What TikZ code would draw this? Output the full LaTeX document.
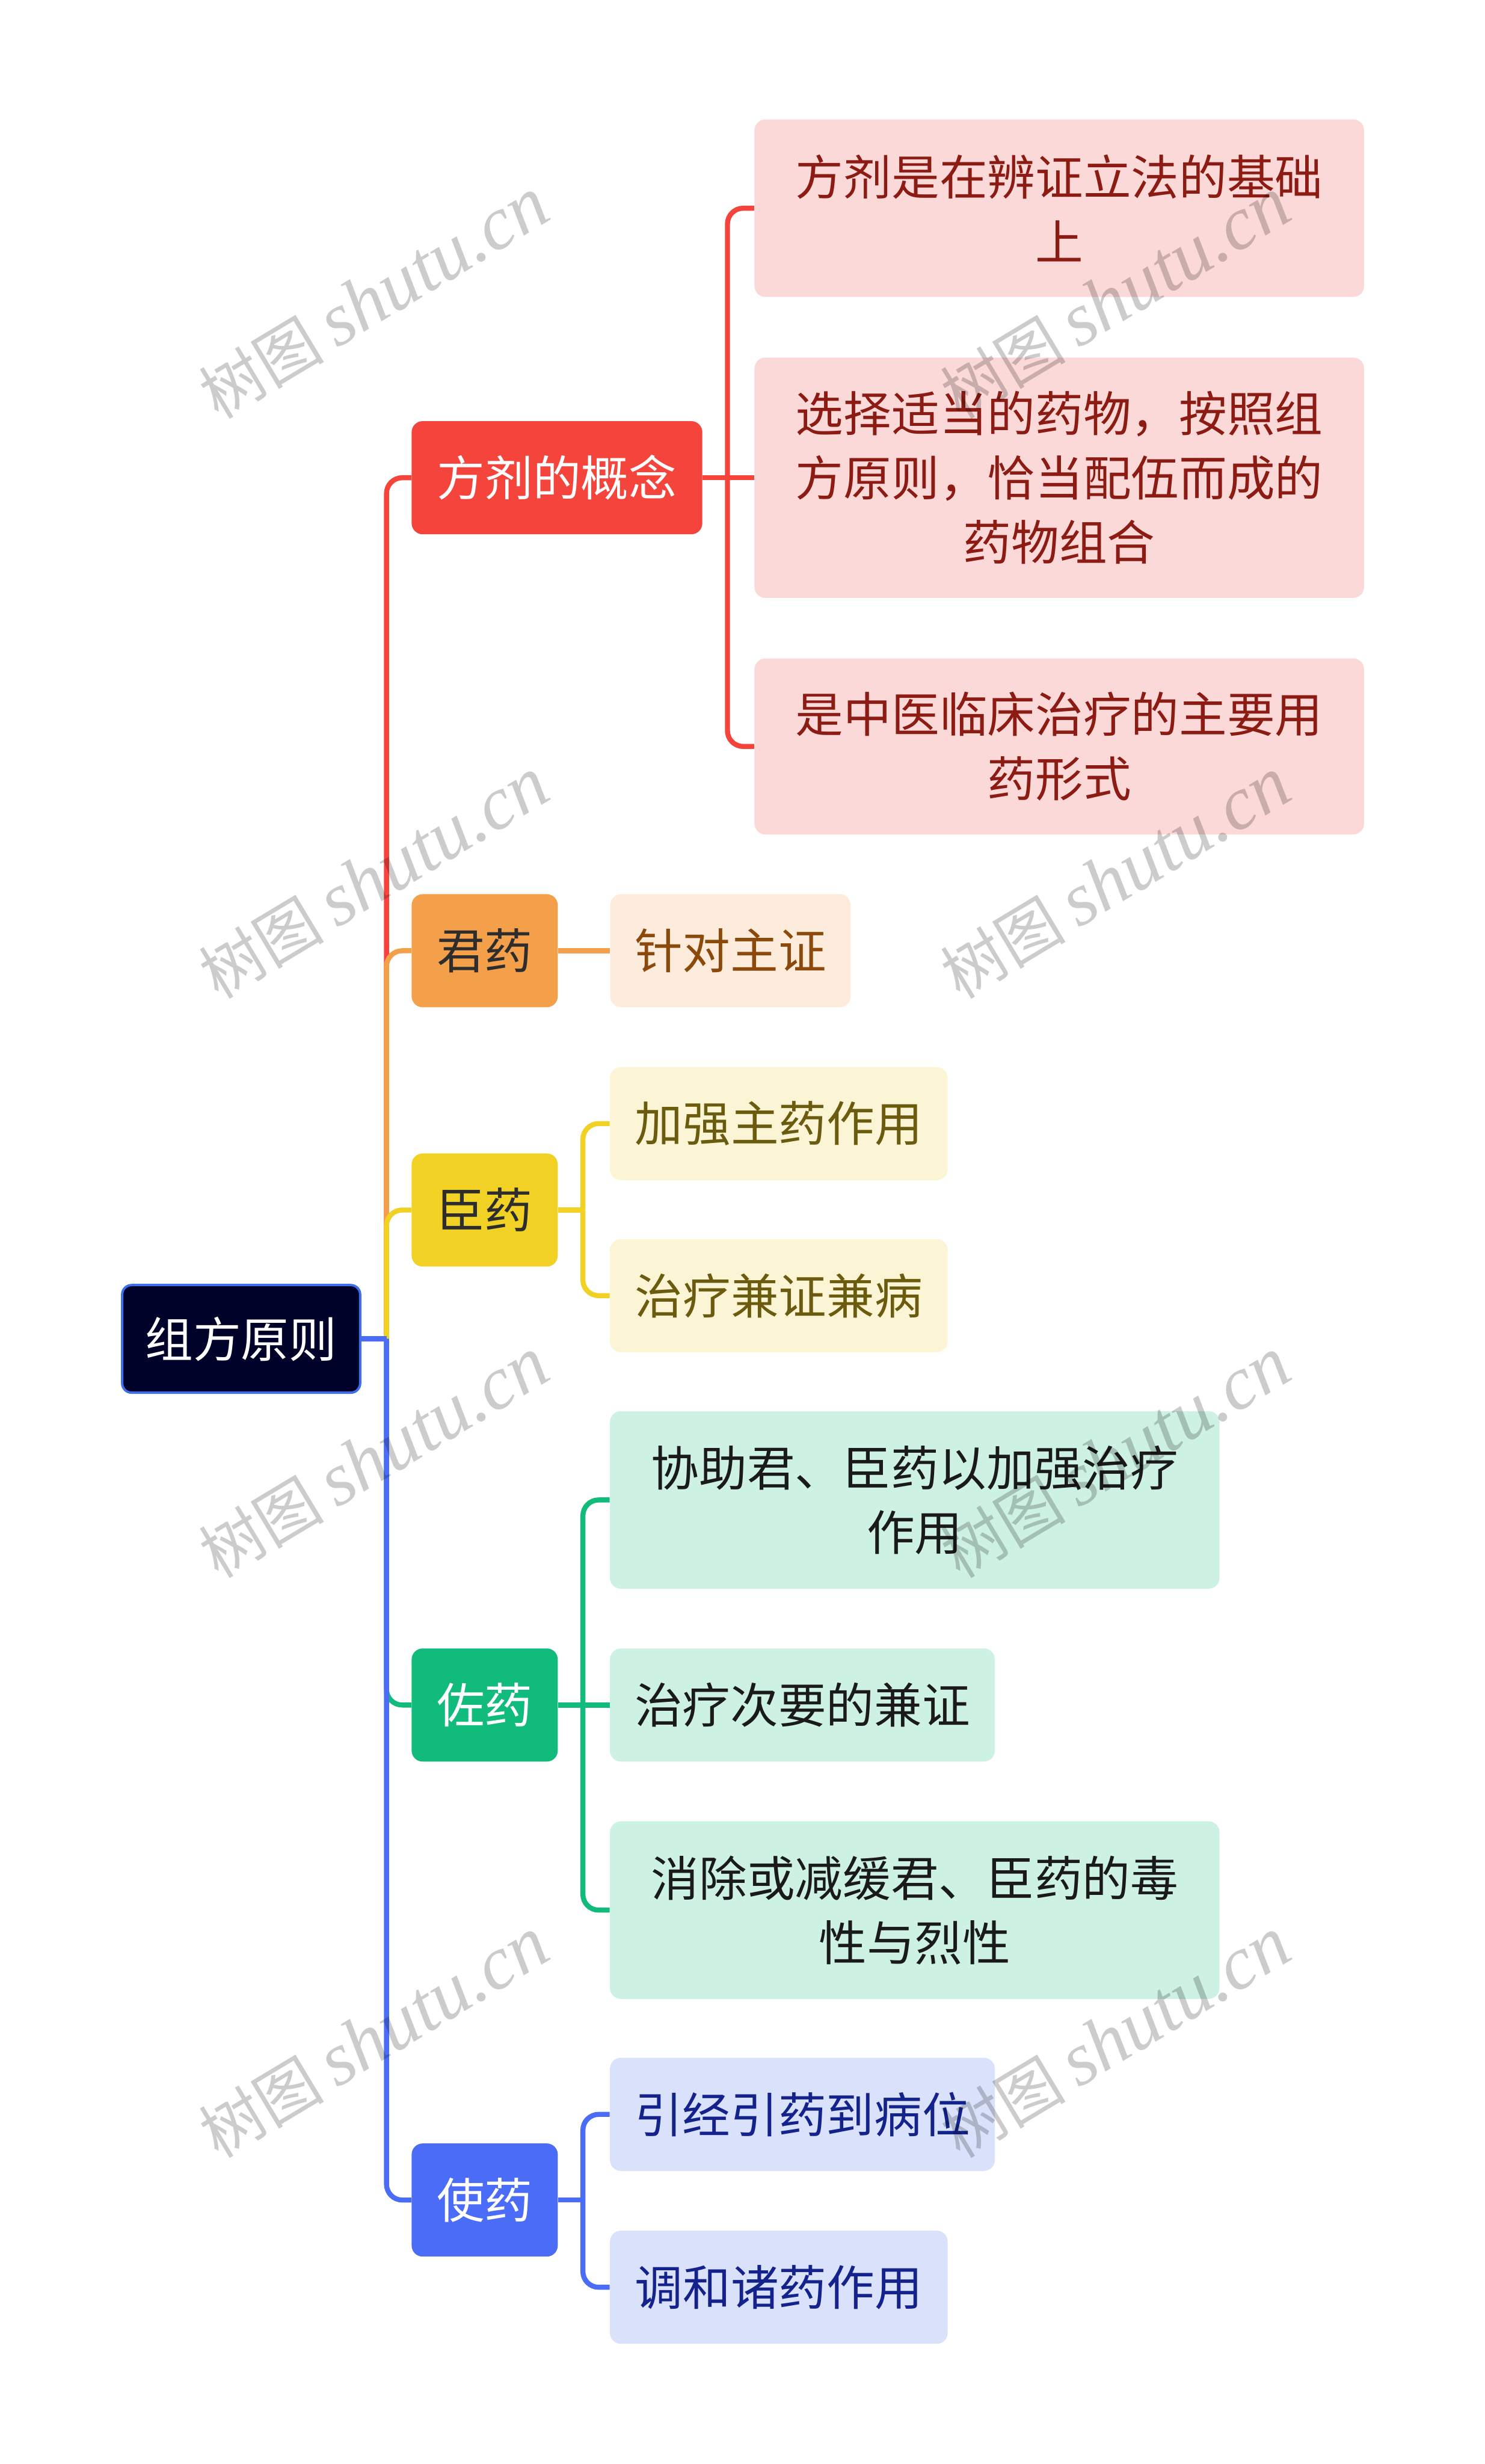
\documentclass[tikz,border=0pt]{standalone}
\usepackage{fontspec}
\setmainfont{Noto Sans CJK SC}
\newfontfamily\wmfont{Liberation Serif}
\usetikzlibrary{positioning}
\definecolor{rootfill}{HTML}{000229}
\definecolor{rootline}{HTML}{3F6EEB}
\definecolor{redmain}{HTML}{F5443B}
\definecolor{redleaf}{HTML}{FCD9D9}
\definecolor{redtext}{HTML}{8C1C13}
\definecolor{orangemain}{HTML}{F4A04B}
\definecolor{orangeleaf}{HTML}{FDEBDC}
\definecolor{orangetext}{HTML}{8B4A0B}
\definecolor{yellowmain}{HTML}{F0D124}
\definecolor{yellowleaf}{HTML}{FBF5D5}
\definecolor{yellowtext}{HTML}{6B5B0E}
\definecolor{greenmain}{HTML}{10BB7C}
\definecolor{greenleaf}{HTML}{CDF1E2}
\definecolor{greentext}{HTML}{1A1A1A}
\definecolor{bluemain}{HTML}{4A6CF7}
\definecolor{blueleaf}{HTML}{DAE1FB}
\definecolor{bluetext}{HTML}{14238C}
\definecolor{darktext}{HTML}{2D2D2D}
\tikzstyle{every node}=[font=\fontsize{30.5}{41}\selectfont]
\tikzstyle{rootbox}=[draw=rootline, line width=1.5pt, fill=rootfill, text=white, rounded corners=6pt, minimum width=151.5pt, minimum height=68.5pt, inner sep=0pt]
\tikzstyle{topic}=[rounded corners=7pt, minimum height=72pt, inner sep=0pt]
\tikzstyle{leaf}=[rounded corners=7pt, minimum height=72pt, inner sep=0pt, align=center, anchor=west]
\tikzstyle{link}=[line width=3.2pt, rounded corners=10pt]
\tikzstyle{wmtext}=[rotate=31, text=black, text opacity=0.2, inner sep=0pt]

\begin{document}
\begin{tikzpicture}[x=1pt, y=-1pt, >=latex]
    \useasboundingbox (0,0) rectangle (945,1568);
    \node[rootbox] (root) at (153.5,852) {组方原则};
    \node[topic, fill=redmain, text=white, minimum width=185pt] (gainian) at (354.5,304) {方剂的概念};
    \node[topic, fill=orangemain, text=darktext, minimum width=93pt] (junyao) at (308.5,605) {君药};
    \node[topic, fill=yellowmain, text=darktext, minimum width=93pt] (chenyao) at (308.5,770) {臣药};
    \node[topic, fill=greenmain, text=white, minimum width=93pt] (zuoyao) at (308.5,1085) {佐药};
    \node[topic, fill=bluemain, text=white, minimum width=93pt] (shiyao) at (308.5,1400) {使药};
    \node[leaf, fill=redleaf, text=redtext, minimum width=388pt, minimum height=113pt] (gainian1) at (480,132.5) {方剂是在辨证立法的基础\\上};
    \node[leaf, fill=redleaf, text=redtext, minimum width=388pt, minimum height=153pt] (gainian2) at (480,304) {选择适当的药物，按照组\\方原则，恰当配伍而成的\\药物组合};
    \node[leaf, fill=redleaf, text=redtext, minimum width=388pt, minimum height=112pt] (gainian3) at (480,475) {是中医临床治疗的主要用\\药形式};
    \node[leaf, fill=orangeleaf, text=orangetext, minimum width=153pt, right=33pt of junyao] (junyao1) {针对主证};
    \node[leaf, fill=yellowleaf, text=yellowtext, minimum width=215pt] (chenyao1) at (388,715) {加强主药作用};
    \node[leaf, fill=yellowleaf, text=yellowtext, minimum width=215pt] (chenyao2) at (388,824.5) {治疗兼证兼病};
    \node[leaf, fill=greenleaf, text=greentext, minimum width=388pt, minimum height=113pt] (zuoyao1) at (388,954.5) {协助君、臣药以加强治疗\\作用};
    \node[leaf, fill=greenleaf, text=greentext, minimum width=245pt] (zuoyao2) at (388,1085) {治疗次要的兼证};
    \node[leaf, fill=greenleaf, text=greentext, minimum width=388pt, minimum height=113pt] (zuoyao3) at (388,1215.5) {消除或减缓君、臣药的毒\\性与烈性};
    \node[leaf, fill=blueleaf, text=bluetext, minimum width=245pt] (shiyao1) at (388,1345.5) {引经引药到病位};
    \node[leaf, fill=blueleaf, text=bluetext, minimum width=215pt] (shiyao2) at (388,1455.5) {调和诸药作用};
    \coordinate (rootjoint) at (246,852);
    \draw[link, redmain] (rootjoint) |- (gainian.west);
    \draw[link, orangemain] (rootjoint) |- (junyao.west);
    \draw[link, yellowmain] (rootjoint) |- (chenyao.west);
    \draw[link, greenmain] (rootjoint) |- (zuoyao.west);
    \draw[link, bluemain] (rootjoint) |- (shiyao.west);
    \draw[link, bluemain] (root.east) -- (rootjoint);
    \coordinate (gainianjoint) at (463,304);
    \draw[link, redmain] (gainian.east) -- (gainianjoint);
    \draw[link, redmain] (gainianjoint) |- (gainian1.west);
    \draw[link, redmain] (gainianjoint) -- (gainian2.west);
    \draw[link, redmain] (gainianjoint) |- (gainian3.west);
    \draw[link, orangemain] (junyao) -- (junyao1);
    \coordinate (chenyaojoint) at (371,770);
    \draw[link, yellowmain] (chenyao.east) -- (chenyaojoint);
    \draw[link, yellowmain] (chenyaojoint) |- (chenyao1.west);
    \draw[link, yellowmain] (chenyaojoint) |- (chenyao2.west);
    \coordinate (zuoyaojoint) at (371,1085);
    \draw[link, greenmain] (zuoyao.east) -- (zuoyaojoint);
    \draw[link, greenmain] (zuoyaojoint) |- (zuoyao1.west);
    \draw[link, greenmain] (zuoyaojoint) -- (zuoyao2.west);
    \draw[link, greenmain] (zuoyaojoint) |- (zuoyao3.west);
    \coordinate (shiyaojoint) at (371,1400);
    \draw[link, bluemain] (shiyao.east) -- (shiyaojoint);
    \draw[link, bluemain] (shiyaojoint) |- (shiyao1.west);
    \draw[link, bluemain] (shiyaojoint) |- (shiyao2.west);
    \foreach \wx in {238,710}
        \foreach \wy in {190,559,928,1297}
            \node[wmtext] (wm-\wx-\wy) at (\wx,\wy) {\fontsize{40}{40}\selectfont 树图\hspace{8pt}\wmfont\itshape\fontsize{48}{48}\selectfont shutu.cn};
\end{tikzpicture}
\end{document}
